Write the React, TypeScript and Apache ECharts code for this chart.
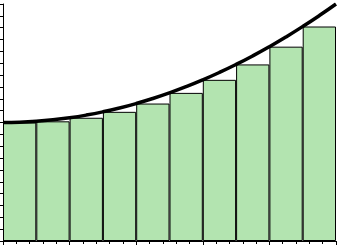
import React, { useEffect, useRef } from "react";
import * as echarts from "echarts";

const barCategories = ["0", "0.5", "1", "1.5", "2", "2.5", "3", "3.5", "4", "4.5"];
const barValues = [2.0, 2.02, 2.08, 2.18, 2.32, 2.5, 2.72, 2.98, 3.28, 3.62];
const curveX = [0, 0.25, 0.5, 0.75, 1, 1.25, 1.5, 1.75, 2, 2.25, 2.5, 2.75, 3, 3.25, 3.5, 3.75, 4, 4.25, 4.5, 4.75, 5];
const curveY = [2.0, 2.005, 2.02, 2.045, 2.08, 2.125, 2.18, 2.245, 2.32, 2.405, 2.5, 2.605, 2.72, 2.845, 2.98, 3.125, 3.28, 3.445, 3.62, 3.805, 4.0];

export default function App() {
  const ref = useRef<HTMLDivElement>(null);
  useEffect(() => {
    if (!ref.current) return;
    const chart = echarts.init(ref.current, undefined, { renderer: "svg" });
    const axisStyle = { lineStyle: { color: "#000", width: 1 } };
    chart.setOption({
      animation: false,
      grid: { left: 3, right: 3, top: 4, bottom: 4, containLabel: false },
      xAxis: [
        {
          type: "value",
          min: 0,
          max: 5,
          interval: 1,
          axisLine: { show: true, onZero: false, ...axisStyle },
          axisTick: { show: true, length: 4, inside: false, ...axisStyle },
          minorTick: { show: true, splitNumber: 5, length: 3, ...axisStyle },
          axisLabel: { show: false },
          splitLine: { show: false },
        },
        {
          type: "category",
          data: barCategories,
          show: false,
          boundaryGap: true,
        },
      ],
      yAxis: {
        type: "value",
        min: 0,
        max: 4,
        interval: 1,
        axisLine: { show: true, onZero: false, ...axisStyle },
        axisTick: { show: true, length: 4, inside: false, ...axisStyle },
        minorTick: { show: true, splitNumber: 5, length: 3, ...axisStyle },
        axisLabel: { show: false },
        splitLine: { show: false },
      },
      series: [
        {
          type: "bar",
          xAxisIndex: 1,
          data: barValues,
          barCategoryGap: "0%",
          itemStyle: { color: "#b3e4b0", borderColor: "#000", borderWidth: 1 },
          z: 2,
        },
        {
          type: "line",
          xAxisIndex: 0,
          data: curveX.map((x, i) => [x, curveY[i]]),
          smooth: true,
          showSymbol: false,
          lineStyle: { color: "#000", width: 3.5 },
          z: 3,
        },
      ],
    });
    return () => chart.dispose();
  }, []);
  return (
    <div
      ref={ref}
      style={{ position: "fixed", left: 0, top: 0, width: 339, height: 245 }}
    />
  );
}
